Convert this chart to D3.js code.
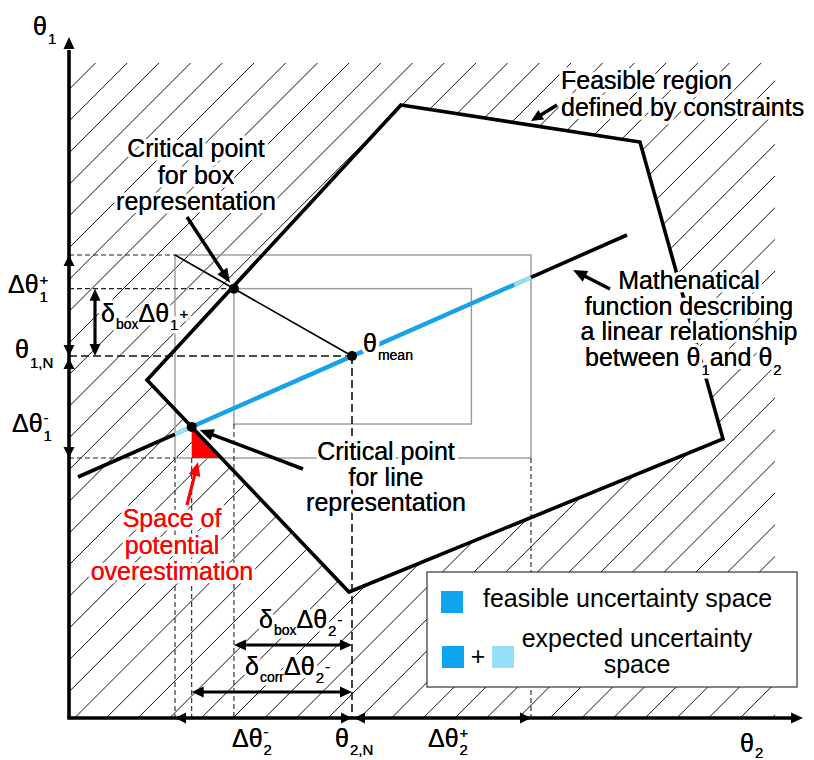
<!DOCTYPE html>
<html>
<head>
<meta charset="utf-8">
<script src="https://cdn.jsdelivr.net/npm/d3@7"></script>
<style>
  body { margin: 0; background: #fff; }
  svg { display: block; font-family: "Liberation Sans", Arial, sans-serif; }
  .halo { stroke: #fff; stroke-width: 7px; stroke-linejoin: round; paint-order: stroke; }
</style>
</head>
<body>
<svg id="chart" width="814" height="760"></svg>
<script>
// ---------- values (diagram units: θ2 horizontal, θ1 vertical) ----------
const theta2N = 283;                 // nominal θ2
const theta1N = 362;                 // nominal θ1
const dTheta2 = [177, 179];          // [Δθ2-, Δθ2+]
const dTheta1 = [102, 101];          // [Δθ1-, Δθ1+]
const deltaBox = 0.667;              // shrink factor of the box representation
const feasibleRegion = [[332, 613], [571, 576], [654, 279], [280, 126], [78, 338]];
const relation = [[9, 241], [558, 483]];   // linear θ1–θ2 relationship
const hatchBounds = [706, 655];            // extent of the infeasible (hatched) space
const hatchStep = 31.7, hatchPhase = 628.5;

// ---------- scales ----------
const x = d3.scaleLinear().domain([0, 734]).range([69, 803]);
const y = d3.scaleLinear().domain([0, 680]).range([718, 38]);
const P = p => [x(p[0]), y(p[1])];

// ---------- derived geometry ----------
function intersect(p1, p2, p3, p4) {
  const d = (p1[0] - p2[0]) * (p3[1] - p4[1]) - (p1[1] - p2[1]) * (p3[0] - p4[0]);
  const a = p1[0] * p2[1] - p1[1] * p2[0], b = p3[0] * p4[1] - p3[1] * p4[0];
  return [(a * (p3[0] - p4[0]) - (p1[0] - p2[0]) * b) / d,
          (a * (p3[1] - p4[1]) - (p1[1] - p2[1]) * b) / d];
}
const lo2 = theta2N - dTheta2[0], hi2 = theta2N + dTheta2[1];
const lo1 = theta1N - dTheta1[0], hi1 = theta1N + dTheta1[1];
const leftEdge = [feasibleRegion[4], feasibleRegion[3]];
const critLine = intersect(relation[0], relation[1], leftEdge[0], leftEdge[1]);
const deltaCorr = (theta2N - critLine[0]) / dTheta2[0];
const critBox = [theta2N - deltaBox * dTheta2[0], theta1N + deltaBox * dTheta1[1]];
const relAt = u => relation[0][1] + (u - relation[0][0]) *
  (relation[1][1] - relation[0][1]) / (relation[1][0] - relation[0][0]);

const svg = d3.select("#chart");

// ---------- hatched infeasible space ----------
svg.append("clipPath").attr("id", "hatchClip").append("rect")
  .attr("x", x(0)).attr("y", y(hatchBounds[1]))
  .attr("width", x(hatchBounds[0]) - x(0)).attr("height", y(0) - y(hatchBounds[1]));
const offsets = d3.range(hatchPhase, -hatchBounds[0] - hatchStep, -hatchStep);
svg.append("g").attr("clip-path", "url(#hatchClip)")
  .selectAll("line").data(offsets).join("line")
  .attr("x1", x(-20)).attr("y1", b => y(-20 + b))
  .attr("x2", x(760)).attr("y2", b => y(760 + b))
  .attr("stroke", "#111").attr("stroke-width", 1);

const line = d3.line().x(d => x(d[0])).y(d => y(d[1]));
svg.append("path").attr("d", line(feasibleRegion) + "Z").attr("fill", "#fff");

// ---------- box representations ----------
const boxes = [[lo2, lo1, hi2, hi1],
  [theta2N - deltaBox * dTheta2[0], theta1N - deltaBox * dTheta1[0],
   theta2N + deltaBox * dTheta2[1], theta1N + deltaBox * dTheta1[1]]];
svg.append("g").selectAll("rect").data(boxes).join("rect")
  .attr("x", d => x(d[0])).attr("y", d => y(d[3]))
  .attr("width", d => x(d[2]) - x(d[0])).attr("height", d => y(d[1]) - y(d[3]))
  .attr("fill", "none").attr("stroke", "#9a9a9a").attr("stroke-width", 1.4);

// line from box corner to the mean value
svg.append("path").attr("d", line([[lo2, hi1], [theta2N, theta1N]]))
  .attr("stroke", "#000").attr("stroke-width", 1.6);

// ---------- dashed guides ----------
const thinDash = [
  [[0, hi1], [lo2, hi1]],
  [[0, critBox[1]], [critBox[0], critBox[1]]],
  [[0, lo1], [lo2, lo1]],
  [[lo2, lo1], [lo2, 0]],
  [[critLine[0], lo1], [critLine[0], 0]],
  [[critBox[0], theta1N - deltaBox * dTheta1[0]], [critBox[0], 0]],
  [[hi2, lo1], [hi2, 0]]
];
const boldDash = [
  [[0, theta1N], [theta2N, theta1N]],
  [[theta2N, theta1N], [theta2N, 0]]
];
svg.append("g").selectAll("path").data(thinDash).join("path")
  .attr("d", line).attr("stroke", "#222").attr("stroke-width", 1.1)
  .attr("stroke-dasharray", "5,3").attr("fill", "none");
svg.append("g").selectAll("path").data(boldDash).join("path")
  .attr("d", line).attr("stroke", "#111").attr("stroke-width", 1.6)
  .attr("stroke-dasharray", "8,4").attr("fill", "none");

// ---------- linear relationship ----------
svg.append("path").attr("d", line(relation)).attr("stroke", "#000").attr("stroke-width", 3.6);
svg.append("path").attr("d", line([[lo2, relAt(lo2)], [hi2, relAt(hi2)]]))
  .attr("stroke", "#96dff6").attr("stroke-width", 4.2);
const f0 = theta2N - deltaCorr * dTheta2[0], f1 = theta2N + deltaCorr * dTheta2[1];
svg.append("path").attr("d", line([[f0, relAt(f0)], [f1, relAt(f1)]]))
  .attr("stroke", "#17a3ea").attr("stroke-width", 4.2);

// space of potential overestimation
const redCorner = intersect(leftEdge[0], leftEdge[1], [0, lo1], [10, lo1]);
svg.append("path").attr("d", line([critLine, [critLine[0], lo1], redCorner]) + "Z")
  .attr("fill", "#ff0000");

// feasible region border
svg.append("path").attr("d", line(feasibleRegion) + "Z")
  .attr("fill", "none").attr("stroke", "#000").attr("stroke-width", 3.6)
  .attr("stroke-linejoin", "miter");

// ---------- arrows ----------
function head(g, tip, dir, len, hw, color) {
  const [dx, dy] = dir, n = Math.hypot(dx, dy), ux = dx / n, uy = dy / n;
  const bx = tip[0] - ux * len, by = tip[1] - uy * len;
  g.append("path")
    .attr("d", `M${tip[0]},${tip[1]}L${bx - uy * hw},${by + ux * hw}L${bx + uy * hw},${by - ux * hw}Z`)
    .attr("fill", color);
}
function arrow(g, from, to, opts = {}) {
  const color = opts.color || "#000", w = opts.width || 3.5, len = opts.len || 14, hw = opts.hw || 6;
  const dx = to[0] - from[0], dy = to[1] - from[1], n = Math.hypot(dx, dy);
  const end = [to[0] - dx / n * (len - 2), to[1] - dy / n * (len - 2)];
  const start = opts.both ? [from[0] + dx / n * (len - 2), from[1] + dy / n * (len - 2)] : from;
  g.append("line").attr("x1", start[0]).attr("y1", start[1]).attr("x2", end[0]).attr("y2", end[1])
    .attr("stroke", color).attr("stroke-width", w);
  head(g, to, [dx, dy], len, hw, color);
  if (opts.both) head(g, from, [-dx, -dy], len, hw, color);
}

const axes = svg.append("g");
axes.append("line").attr("x1", x(0)).attr("y1", y(0)).attr("x2", x(0)).attr("y2", y(668))
  .attr("stroke", "#000").attr("stroke-width", 3.6);
axes.append("line").attr("x1", x(0) - 1.8).attr("y1", y(0)).attr("x2", x(722)).attr("y2", y(0))
  .attr("stroke", "#000").attr("stroke-width", 3.6);
head(axes, [x(0), y(681)], [0, -1], 12, 5.5, "#000");
head(axes, [x(734), y(0)], [1, 0], 12, 5.5, "#000");
// uncertainty ranges marked on both axes
[[hi1, -1], [theta1N, 1], [theta1N - 2, -1], [lo1, 1]].forEach(([v, s]) =>
  head(axes, [x(0), y(v)], [0, s], 11, 5.5, "#000"));
[[lo2, -1], [theta2N, 1], [theta2N + 2, -1], [hi2, 1]].forEach(([u, s]) =>
  head(axes, [x(u), y(0)], [s, 0], 11, 5.5, "#000"));

// dimension arrows
const dims = svg.append("g");
arrow(dims, [x(26), y(critBox[1])], [x(26), y(theta1N)], { both: true, width: 3.2, len: 12, hw: 5.5 });
arrow(dims, [x(critBox[0]), y(73)], [x(theta2N), y(73)], { both: true, width: 3.2, len: 12, hw: 5.5 });
arrow(dims, [x(critLine[0]), y(26)], [x(theta2N), y(26)], { both: true, width: 3.2, len: 12, hw: 5.5 });

// ---------- points ----------
svg.append("g").selectAll("circle").data([critBox, [theta2N, theta1N], critLine]).join("circle")
  .attr("cx", d => x(d[0])).attr("cy", d => y(d[1])).attr("r", 5).attr("fill", "#000");

// ---------- text (halo pass first, glyphs copied on top afterwards) ----------
const txt = svg.append("g");
function block(lines, cx, y0, lh, opts = {}) {
  const t = txt.append("text").attr("class", "halo")
    .attr("text-anchor", opts.anchor || "middle").attr("font-size", opts.size || 25)
    .attr("fill", opts.color || "#000");
  lines.forEach((s, i) => t.append("tspan").attr("x", cx).attr("y", y0 + i * lh).text(s));
  return t;
}
// parts: [main, sub, sup]; sup is stacked over sub unless o.seq puts it after
function rich(x0, yb, parts, o = {}) {
  const subOff = o.sub ?? 8, supOff = o.sup ?? -8, size = o.size || 25;
  let cx = x0;
  parts.forEach(([main, sub, sup]) => {
    const t = txt.append("text").attr("class", "halo").attr("x", cx).attr("y", yb)
      .attr("font-size", size).text(main);
    cx += t.node().getComputedTextLength();
    let adv = 0;
    if (sub) {
      const word = /^[a-z]+$/.test(sub);
      const s = txt.append("text").attr("class", "halo").attr("x", cx + 1)
        .attr("y", yb + (word ? (o.wordSub ?? 7) : subOff))
        .attr("font-size", word ? 14 : 15).text(sub);
      adv = s.node().getComputedTextLength() + 1;
    }
    if (sup) {
      const sx = o.seq ? cx + adv + 1 : cx + 1;
      const s = txt.append("text").attr("class", "halo").attr("x", sx).attr("y", yb + supOff)
        .attr("font-size", 15).text(sup);
      const w = s.node().getComputedTextLength() + 1;
      adv = o.seq ? adv + w : Math.max(adv, w);
    }
    cx += adv;
  });
}

// axis titles and range labels
rich(33, 35, [["θ", "1"]], { sub: 9 });
rich(740, 752, [["θ", "2"]], { sub: 6 });
rich(8, 293, [["Δθ", "1", "+"]], { sub: 9, sup: -8 });
rich(15, 358, [["θ", "1,N"]], { sub: 10 });
rich(12, 432, [["Δθ", "1", "-"]], { sub: 9, sup: -9 });
rich(232, 747, [["Δθ", "2", "-"]], { sub: 8, sup: -10 });
rich(335, 747, [["θ", "2,N"]], { sub: 8 });
rich(428, 747, [["Δθ", "2", "+"]], { sub: 8, sup: -9 });
rich(101, 322, [["δ", "box"], ["Δθ", "1", "+"]], { sub: 8, sup: -3, seq: true });
rich(259, 628, [["δ", "box"], ["Δθ", "2", "-"]], { sub: 8, sup: -3, seq: true });
rich(245, 675, [["δ", "corr"], ["Δθ", "2", "-"]], { sub: 8, sup: -3, seq: true });
rich(363, 352, [["θ", "mean"]], { wordSub: 8 });

// annotations
block(["Critical point", "for box", "representation"], 196, 157, 26.5);
block(["Critical point", "for line", "representation"], 386, 460, 25.5);
block(["Feasible region", "defined by constraints"], 561, 89, 27, { anchor: "start" });
block(["Mathenatical", "function describing", "a linear relationship"], 689, 289, 25.7);
rich(585, 366, [["between θ", "1"], [" and θ", "2"]], { sub: 9 });
block(["Space of", "potential", "overestimation"], 172, 527, 26.5, { color: "#ff0000" });

const glyphs = txt.node().cloneNode(true);
svg.node().appendChild(glyphs);
d3.select(glyphs).selectAll("text").classed("halo", false);

const ann = svg.append("g");
const cb = P(critBox), cl = P(critLine);
arrow(ann, [187, 217], [cb[0] - 4, cb[1] - 6]);
arrow(ann, [303, 469], [cl[0] + 8, cl[1] + 3]);
arrow(ann, [557, 105], [531, 121], { len: 12, hw: 5.5 });
arrow(ann, [610, 289], [573, 270]);
arrow(ann, [187, 505], [198, 462], { color: "#ff0000", width: 3.2 });

// ---------- legend ----------
const lg = svg.append("g");
lg.append("rect").attr("x", 427).attr("y", 572).attr("width", 370).attr("height", 115)
  .attr("fill", "#fff").attr("stroke", "#333").attr("stroke-width", 1.2);
lg.append("rect").attr("x", 441).attr("y", 591).attr("width", 22).attr("height", 22).attr("fill", "#0ea5ef");
lg.append("text").attr("x", 483).attr("y", 607).attr("font-size", 25).text("feasible uncertainty space");
lg.append("rect").attr("x", 442).attr("y", 646).attr("width", 22).attr("height", 22).attr("fill", "#0ea5ef");
lg.append("text").attr("x", 478).attr("y", 665).attr("font-size", 25).attr("text-anchor", "middle").text("+");
lg.append("rect").attr("x", 492).attr("y", 646).attr("width", 22).attr("height", 22).attr("fill", "#96e0f7");
lg.append("text").attr("x", 637).attr("y", 647).attr("font-size", 25).attr("text-anchor", "middle").text("expected uncertainty");
lg.append("text").attr("x", 637).attr("y", 673).attr("font-size", 25).attr("text-anchor", "middle").text("space");
</script>
</body>
</html>
